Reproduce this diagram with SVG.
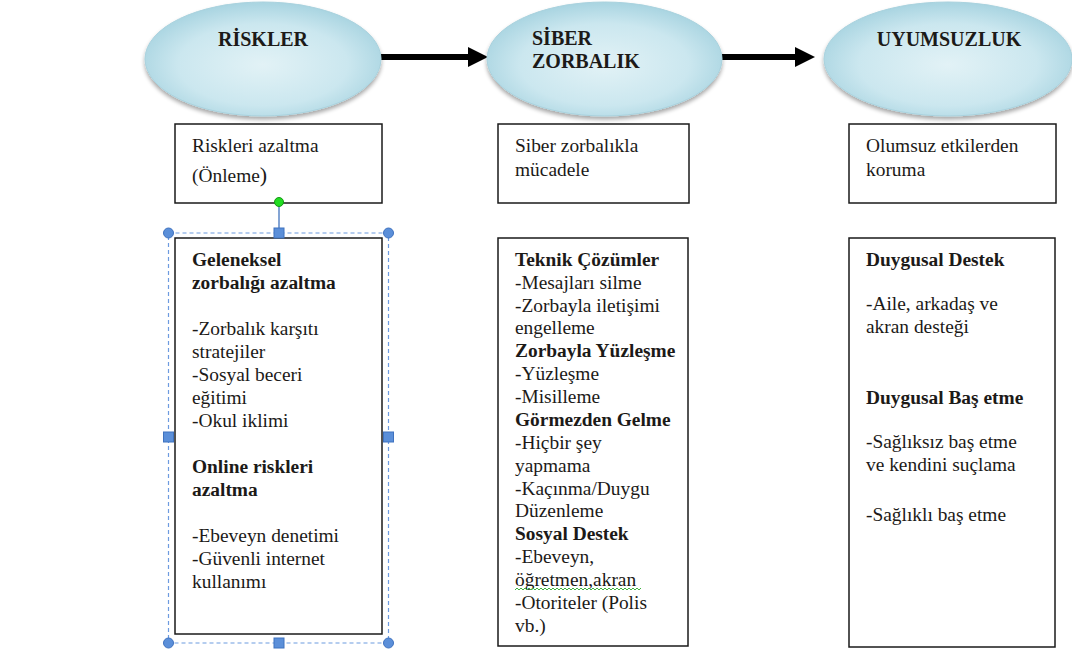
<svg xmlns="http://www.w3.org/2000/svg" width="1072" height="651" viewBox="0 0 1072 651">
<defs>
<radialGradient id="eg" cx="0.5" cy="0.55" r="0.6">
<stop offset="0" stop-color="#e2f2f6"/>
<stop offset="0.6" stop-color="#cbe7ef"/>
<stop offset="1" stop-color="#9fcfdd"/>
</radialGradient>
<filter id="sh" x="-10%" y="-10%" width="120%" height="130%">
<feGaussianBlur in="SourceAlpha" stdDeviation="2"/>
<feOffset dx="0" dy="3" result="b"/>
<feComponentTransfer><feFuncA type="linear" slope="0.35"/></feComponentTransfer>
<feMerge><feMergeNode/><feMergeNode in="SourceGraphic"/></feMerge>
</filter>
<marker id="ah" markerWidth="20" markerHeight="20" refX="0" refY="10" orient="auto" markerUnits="userSpaceOnUse">
<path d="M0,0 L20,10 L0,20 Z" fill="#000"/>
</marker>
</defs>
<style>
.ell{fill:url(#eg);stroke:#a9d2de;stroke-width:1;filter:url(#sh)}
.box{fill:#fff;stroke:#1a1a1a;stroke-width:1.5}
.t{font-family:"Liberation Serif","Times New Roman",serif;font-size:19.4px;fill:#1c1a18}
.b{font-weight:bold}
.h{font-family:"Liberation Serif","Times New Roman",serif;font-size:20px;font-weight:bold;fill:#1c1a18}
.conn{stroke:#000;stroke-width:6;fill:none}
.sel{fill:none;stroke:#6d9be0;stroke-width:1.2;stroke-dasharray:4 3}
.hc{fill:#5b8fd9;stroke:#3f72bf;stroke-width:1}
</style>

<g id="connectors">
<line class="conn" x1="381" y1="57" x2="468" y2="57" marker-end="url(#ah)"/>
<line class="conn" x1="722" y1="57" x2="795" y2="57" marker-end="url(#ah)"/>
</g>

<g id="riskler">
<ellipse class="ell" cx="263" cy="59" rx="118" ry="57"/>
<text class="h" x="263" y="46" text-anchor="middle">RİSKLER</text>
</g>
<g id="siber">
<ellipse class="ell" cx="604.5" cy="59" rx="117.5" ry="57"/>
<text class="h" x="532" y="45">SİBER</text>
<text class="h" x="532" y="68">ZORBALIK</text>
</g>
<g id="uyumsuzluk">
<ellipse class="ell" cx="948" cy="59" rx="124" ry="57"/>
<text class="h" x="949" y="46" text-anchor="middle">UYUMSUZLUK</text>
</g>

<g id="box1top">
<rect class="box" x="175" y="124" width="207" height="79"/>
<text class="t" x="192" y="152">Riskleri azaltma</text>
<text class="t" x="192" y="182">(Önleme<tspan font-size="22">)</tspan></text>
</g>
<g id="box2top">
<rect class="box" x="498" y="124" width="191" height="79"/>
<text class="t" x="515" y="152">Siber zorbalıkla</text>
<text class="t" x="515" y="176">mücadele</text>
</g>
<g id="box3top">
<rect class="box" x="849" y="124" width="207" height="79"/>
<text class="t" x="866" y="152">Olumsuz etkilerden</text>
<text class="t" x="866" y="176">koruma</text>
</g>

<g id="box1">
<rect class="box" x="175" y="238" width="207" height="396"/>
<text class="t" x="192"><tspan class="b" x="192" y="266">Geleneksel</tspan><tspan class="b" x="192" y="289">zorbalığı azaltma</tspan><tspan x="192" y="335">-Zorbalık karşıtı</tspan><tspan x="192" y="358">stratejiler</tspan><tspan x="192" y="381">-Sosyal beceri</tspan><tspan x="192" y="404">eğitimi</tspan><tspan x="192" y="427">-Okul iklimi</tspan><tspan class="b" x="192" y="473">Online riskleri</tspan><tspan class="b" x="192" y="496">azaltma</tspan><tspan x="192" y="542">-Ebeveyn denetimi</tspan><tspan x="192" y="565">-Güvenli internet</tspan><tspan x="192" y="588">kullanımı</tspan></text>
</g>

<g id="selection">
<line x1="279" y1="202" x2="279" y2="233" stroke="#5b86c6" stroke-width="1.5"/>
<rect class="sel" x="168.5" y="233" width="220" height="410"/>
<circle cx="279" cy="202" r="4.5" fill="#22dd22" stroke="#159915" stroke-width="1"/>
<circle class="hc" cx="168.5" cy="233" r="5"/>
<circle class="hc" cx="388.5" cy="233" r="5"/>
<circle class="hc" cx="168.5" cy="643" r="5"/>
<circle class="hc" cx="388.5" cy="643" r="5"/>
<rect class="hc" x="274" y="228" width="10" height="10"/>
<rect class="hc" x="274" y="638" width="10" height="10"/>
<rect class="hc" x="163.5" y="432" width="10" height="10"/>
<rect class="hc" x="383.5" y="432" width="10" height="10"/>
</g>

<g id="box2">
<rect class="box" x="498" y="238" width="190" height="408"/>
<text class="t"><tspan class="b" x="515" y="266">Teknik Çözümler</tspan><tspan x="515" y="289">-Mesajları silme</tspan><tspan x="515" y="312">-Zorbayla iletişimi</tspan><tspan x="515" y="334">engelleme</tspan><tspan class="b" x="515" y="357">Zorbayla Yüzleşme</tspan><tspan x="515" y="380">-Yüzleşme</tspan><tspan x="515" y="403">-Misilleme</tspan><tspan class="b" x="515" y="426">Görmezden Gelme</tspan><tspan x="515" y="449">-Hiçbir şey</tspan><tspan x="515" y="472">yapmama</tspan><tspan x="515" y="495">-Kaçınma/Duygu</tspan><tspan x="515" y="517">Düzenleme</tspan><tspan class="b" x="515" y="540">Sosyal Destek</tspan><tspan x="515" y="563">-Ebeveyn,</tspan><tspan x="515" y="586">öğretmen,akran</tspan><tspan x="515" y="609">-Otoriteler (Polis</tspan><tspan x="515" y="632">vb.)</tspan></text>
<path d="M515,590 l2,-2 l2,2 l2,-2 l2,2 l2,-2 l2,2 l2,-2 l2,2 l2,-2 l2,2 l2,-2 l2,2 l2,-2 l2,2 l2,-2 l2,2 l2,-2 l2,2 l2,-2 l2,2 l2,-2 l2,2 l2,-2 l2,2 l2,-2 l2,2 l2,-2 l2,2 l2,-2 l2,2 l2,-2 l2,2 l2,-2 l2,2 l2,-2 l2,2 l2,-2 l2,2 l2,-2 l2,2 l2,-2 l2,2 l2,-2 l2,2 l2,-2 l2,2 l2,-2 l2,2 l2,-2 l2,2 l2,-2 l2,2 l2,-2 l2,2 l2,-2 l2,2 l2,-2 l2,2 l2,-2 l2,2 l2,-2 l2,2 l2,-2" fill="none" stroke="#3fb33f" stroke-width="1"/>
</g>

<g id="box3">
<rect class="box" x="849" y="238" width="206" height="409"/>
<text class="t"><tspan class="b" x="866" y="266">Duygusal Destek</tspan><tspan x="866" y="310">-Aile, arkadaş ve</tspan><tspan x="866" y="333">akran desteği</tspan><tspan class="b" x="866" y="404">Duygusal Baş etme</tspan><tspan x="866" y="448">-Sağlıksız baş etme</tspan><tspan x="866" y="471">ve kendini suçlama</tspan><tspan x="866" y="521">-Sağlıklı baş etme</tspan></text>
</g>
</svg>
